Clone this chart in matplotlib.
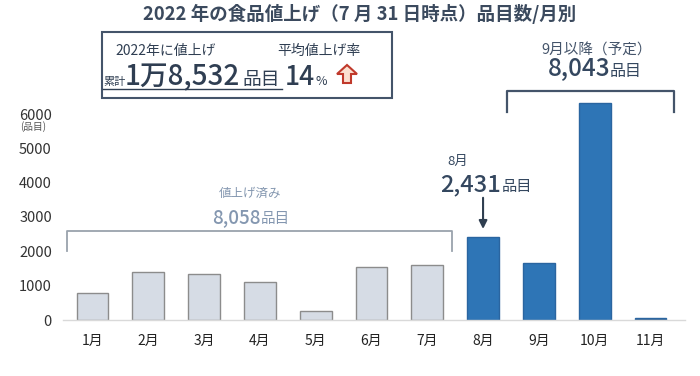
import matplotlib
matplotlib.use("Agg")
import matplotlib.pyplot as plt
from matplotlib.patches import Rectangle, Polygon

plt.rcParams['font.family'] = ['Noto Sans CJK JP', 'DejaVu Sans']

months = ['1月', '2月', '3月', '4月', '5月', '6月', '7月', '8月', '9月', '10月', '11月']
counts = [780, 1410, 1345, 1120, 250, 1540, 1613, 2431, 1668, 6315, 60]
done_months = 7            # 1月-7月 already raised
aug_index = 7
yticks = [0, 1000, 2000, 3000, 4000, 5000, 6000]

W, H = 700, 376


def fx(x):
    return x / W


def fy(y):
    return 1 - y / H


fig = plt.figure(figsize=(7, 3.76), dpi=100)
ax = fig.add_axes([fx(63), fy(320), (685 - 63) / W, (320 - 93.4) / H])

colors = ['#d6dce5'] * done_months + ['#2e75b6'] * (len(months) - done_months)
edges = ['#8c8c8c'] * done_months + ['#2a65a0'] * (len(months) - done_months)
colors[-1] = '#2f5d8f'
ax.bar(range(len(months)), counts, width=0.57, color=colors, edgecolor=edges, linewidth=1)

ax.set_xlim(-0.53, 10.62)
ax.set_ylim(0, 6600)
ax.set_xticks(range(len(months)))
ax.set_xticklabels(months, fontsize=10, color='#222222')
ax.set_yticks(yticks)
ax.set_yticklabels([str(v) for v in yticks], fontsize=10.5, color='#333333')
ax.tick_params(axis='x', length=0, pad=10)
ax.tick_params(axis='y', length=0, pad=8)
for s in ['top', 'right', 'left']:
    ax.spines[s].set_visible(False)
ax.spines['bottom'].set_color('#d9d9d9')
ax.spines['bottom'].set_linewidth(1)
fig.text(fx(33), fy(127), '(品目)', fontsize=7, color='#555555', ha='center', va='center')

# title
fig.text(fx(360), fy(14), '2022 年の食品値上げ（7 月 31 日時点）品目数/月別',
         fontsize=13.3, fontweight='bold', color='#3b4a5e', ha='center', va='center')

# summary box
dark = '#2f3e52'
fig.patches.append(Rectangle((fx(102), fy(98)), (392 - 102) / W, (98 - 32) / H,
                             transform=fig.transFigure, fill=False,
                             edgecolor='#44546a', linewidth=1.5))
fig.text(fx(115), fy(55), '2022年に値上げ', fontsize=10, color=dark, va='baseline')
fig.text(fx(277), fy(55), '平均値上げ率', fontsize=10, color=dark, va='baseline')
fig.text(fx(103), fy(85), '累計', fontsize=8, color=dark, va='baseline')
fig.text(fx(125), fy(85), '1万8,532', fontsize=20, fontweight='medium', color=dark,
         va='baseline')
fig.text(fx(242), fy(85), '品目', fontsize=13.5, color=dark, va='baseline')
fig.lines.append(plt.Line2D([fx(103), fx(282)], [fy(89), fy(89)],
                            transform=fig.transFigure, color=dark, linewidth=1))
fig.text(fx(285), fy(85), '14', fontsize=19, fontweight='medium', color=dark, va='baseline')
fig.text(fx(316), fy(85), '%', fontsize=9, color=dark, va='baseline')
arrow_px = [(347, 65), (357, 74), (351, 74), (351, 83), (343, 83), (343, 74), (337, 74)]
fig.patches.append(Polygon([(fx(x), fy(y)) for x, y in arrow_px], closed=True,
                           transform=fig.transFigure, facecolor='#fbe0d0',
                           edgecolor='#c0392b', linewidth=1.5))

# 9月以降 annotation
blue_dark = '#34475f'
fig.text(fx(597), fy(55), '9月以降（予定）', fontsize=10.5, color='#44546a',
         ha='center', va='baseline')
fig.text(fx(548), fy(76), '8,043', fontsize=17.5, fontweight='medium', color=blue_dark,
         va='baseline')
fig.text(fx(610), fy(76), '品目', fontsize=11.5, color=blue_dark, va='baseline')
ax.plot([7.425, 7.425, 10.42, 10.42], [6059, 6670, 6670, 6059], color='#44546a',
        linewidth=1.6, clip_on=False, solid_joinstyle='round')

# 値上げ済み annotation
gray_txt = '#8497b0'
fig.text(fx(250), fy(197), '値上げ済み', fontsize=9, color=gray_txt, ha='center', va='baseline')
fig.text(fx(212), fy(223), '8,058', fontsize=13.5, fontweight='medium', color=gray_txt,
         va='baseline')
fig.text(fx(261), fy(223), '品目', fontsize=10.5, color=gray_txt, va='baseline')
ax.plot([-0.464, -0.464, 6.438, 6.438], [2010, 2592, 2592, 2010], color='#9aa3ad',
        linewidth=1.3, clip_on=False, solid_joinstyle='round')

# 8月 annotation
fig.text(fx(447), fy(165), '8月', fontsize=9.5, color=blue_dark, va='baseline')
fig.text(fx(440), fy(191), '2,431', fontsize=17, fontweight='medium', color=blue_dark,
         va='baseline')
fig.text(fx(502), fy(191), '品目', fontsize=11, color=blue_dark, va='baseline')
ax.annotate('', xy=(aug_index, counts[aug_index] + 220), xytext=(aug_index, 3560),
            arrowprops=dict(arrowstyle='-|>', color='#2f3e50', lw=1.5,
                            shrinkA=0, shrinkB=0, mutation_scale=12),
            annotation_clip=False)

fig.savefig('out.png', dpi=100)
